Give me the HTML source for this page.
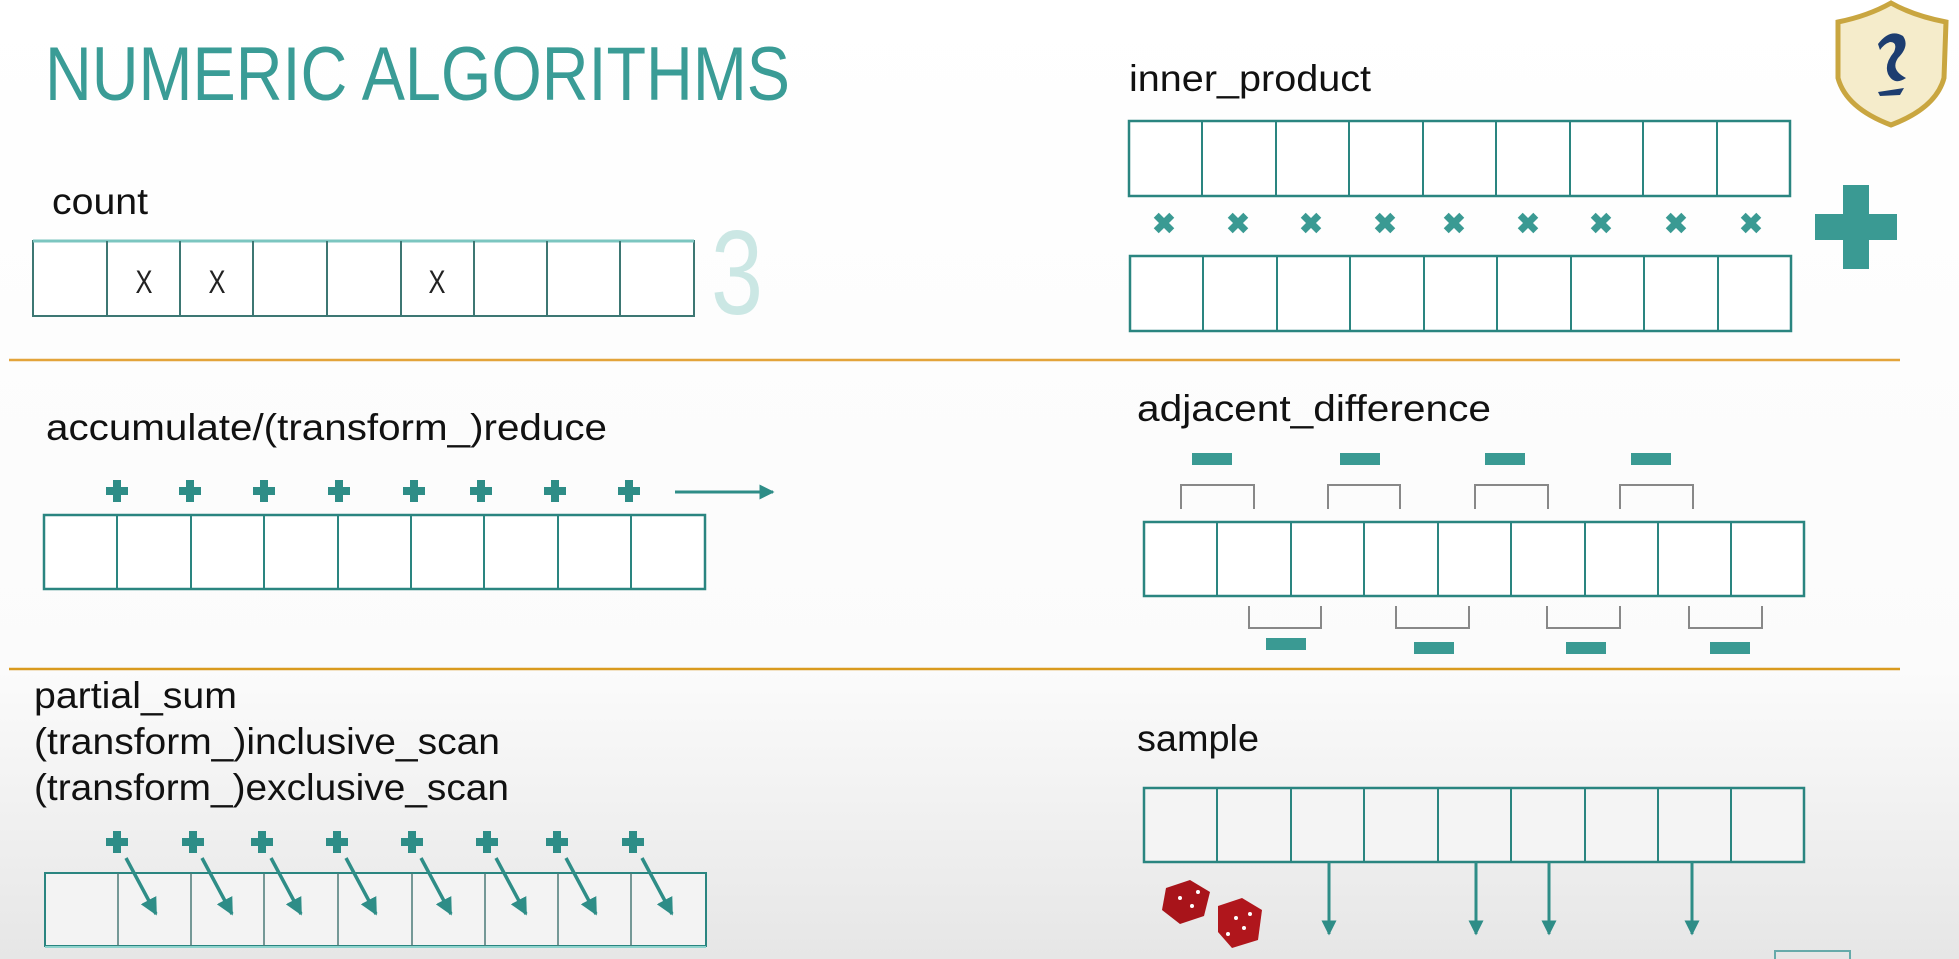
<!DOCTYPE html>
<html><head><meta charset="utf-8"><style>
html,body{margin:0;padding:0;width:1959px;height:959px;overflow:hidden;}
svg{display:block;}
text{font-family:"Liberation Sans",sans-serif;}
</style></head><body>
<svg width="1959" height="959" viewBox="0 0 1959 959" xmlns="http://www.w3.org/2000/svg">
<defs>
<linearGradient id="bg" x1="0" y1="0" x2="0" y2="1">
<stop offset="0" stop-color="#ffffff"/><stop offset="0.7" stop-color="#fbfbfb"/><stop offset="1" stop-color="#e6e6e6"/>
</linearGradient>
<g id="plus"><rect x="-4" y="-11" width="8" height="22" fill="#2e8d87"/><rect x="-11" y="-4" width="22" height="8" fill="#2e8d87"/></g>
<g id="times" transform="rotate(45)"><rect x="-3.5" y="-11" width="7" height="22" fill="#3a9a93"/><rect x="-11" y="-3.5" width="22" height="7" fill="#3a9a93"/></g>
<marker id="ah" viewBox="0 0 10 10" refX="9" refY="5" markerWidth="5" markerHeight="5" orient="auto"><path d="M0,0 L10,5 L0,10 z" fill="#2e8d87"/></marker>
</defs>
<rect width="1959" height="959" fill="url(#bg)"/>

<text x="45" y="100" font-size="76" fill="#3a9c96" textLength="745" lengthAdjust="spacingAndGlyphs">NUMERIC ALGORITHMS</text>

<path d="M1838,22 Q1868,16 1891,3 Q1914,16 1946,22 L1944,78 Q1936,108 1891,125 Q1846,108 1838,78 Z" fill="#f5eccb" stroke="#c9a640" stroke-width="5"/>
<path d="M1878,44 Q1890,28 1903,36 Q1910,46 1898,58 Q1890,70 1906,78 Q1894,86 1888,74 Q1884,64 1894,52 Q1898,42 1890,42 Q1884,44 1880,50 Z" fill="#1d3d70"/>
<path d="M1878,92 L1904,88 L1900,95 L1880,96 Z" fill="#1d3d70"/>

<text x="52" y="214" font-size="37" fill="#111" textLength="96" lengthAdjust="spacingAndGlyphs">count</text>
<rect x="33" y="241" width="661" height="75" fill="#fff" stroke="#3d7773" stroke-width="2"/>
<line x1="33" y1="241" x2="694" y2="241" stroke="#7cc6c0" stroke-width="3"/>
<path d="M107,241V316M180,241V316M253,241V316M327,241V316M401,241V316M474,241V316M547,241V316M620,241V316" stroke="#3d7773" stroke-width="2"/>
<g font-size="32" fill="#222" text-anchor="middle"><text x="144" y="293" textLength="17" lengthAdjust="spacingAndGlyphs">X</text><text x="217" y="293" textLength="17" lengthAdjust="spacingAndGlyphs">X</text><text x="437" y="293" textLength="17" lengthAdjust="spacingAndGlyphs">X</text></g>
<text x="737" y="314" font-size="120" fill="#cbe7e4" text-anchor="middle" textLength="52" lengthAdjust="spacingAndGlyphs">3</text>

<text x="1129" y="91" font-size="37" fill="#111" textLength="242" lengthAdjust="spacingAndGlyphs">inner_product</text>
<g stroke="#2a8580" stroke-width="2.5" fill="#fff">
<rect x="1129" y="121" width="661" height="75"/>
<rect x="1130" y="256" width="661" height="75"/>
</g>
<g stroke="#2a8580" stroke-width="2">
<path d="M1202,121V196M1276,121V196M1349,121V196M1423,121V196M1496,121V196M1570,121V196M1643,121V196M1717,121V196"/>
<path d="M1203,256V331M1277,256V331M1350,256V331M1424,256V331M1497,256V331M1571,256V331M1644,256V331M1718,256V331"/>
</g>
<g>
<use href="#times" x="1164" y="223"/><use href="#times" x="1238" y="223"/><use href="#times" x="1311" y="223"/><use href="#times" x="1385" y="223"/><use href="#times" x="1454" y="223"/><use href="#times" x="1528" y="223"/><use href="#times" x="1601" y="223"/><use href="#times" x="1676" y="223"/><use href="#times" x="1751" y="223"/>
</g>
<rect x="1843" y="185" width="26" height="84" fill="#3a9a93"/>
<rect x="1815" y="214" width="82" height="26" fill="#3a9a93"/>

<line x1="9" y1="360" x2="1900" y2="360" stroke="#e3a43a" stroke-width="2.5"/>
<line x1="9" y1="669" x2="1900" y2="669" stroke="#d99a1e" stroke-width="2.5"/>

<text x="46" y="440" font-size="37" fill="#111" textLength="561" lengthAdjust="spacingAndGlyphs">accumulate/(transform_)reduce</text>
<g>
<use href="#plus" x="117" y="491"/><use href="#plus" x="190" y="491"/><use href="#plus" x="264" y="491"/><use href="#plus" x="339" y="491"/><use href="#plus" x="414" y="491"/><use href="#plus" x="481" y="491"/><use href="#plus" x="555" y="491"/><use href="#plus" x="629" y="491"/>
</g>
<line x1="675" y1="492" x2="773" y2="492" stroke="#2e8d87" stroke-width="3" marker-end="url(#ah)"/>
<rect x="44" y="515" width="661" height="74" fill="#fff" stroke="#2a8580" stroke-width="2.5"/>
<path d="M117,515V589M191,515V589M264,515V589M338,515V589M411,515V589M484,515V589M558,515V589M631,515V589" stroke="#2a8580" stroke-width="2"/>

<text x="1137" y="421" font-size="37" fill="#111" textLength="354" lengthAdjust="spacingAndGlyphs">adjacent_difference</text>
<g fill="#3a9a93">
<rect x="1192" y="453" width="40" height="12"/><rect x="1340" y="453" width="40" height="12"/><rect x="1485" y="453" width="40" height="12"/><rect x="1631" y="453" width="40" height="12"/>
<rect x="1266" y="638" width="40" height="12"/><rect x="1414" y="642" width="40" height="12"/><rect x="1566" y="642" width="40" height="12"/><rect x="1710" y="642" width="40" height="12"/>
</g>
<g stroke="#888" stroke-width="2" fill="none">
<path d="M1181,509V485H1254V509M1328,509V485H1400V509M1475,509V485H1548V509M1620,509V485H1693V509"/>
<path d="M1249,606V628H1321V606M1396,606V628H1469V606M1547,606V628H1620V606M1689,606V628H1762V606"/>
</g>
<rect x="1144" y="522" width="660" height="74" fill="#fff" stroke="#2a8580" stroke-width="2.5"/>
<path d="M1217,522V596M1291,522V596M1364,522V596M1438,522V596M1511,522V596M1585,522V596M1658,522V596M1731,522V596" stroke="#2a8580" stroke-width="2"/>

<g font-size="37" fill="#111">
<text x="34" y="708" textLength="203" lengthAdjust="spacingAndGlyphs">partial_sum</text>
<text x="34" y="754" textLength="466" lengthAdjust="spacingAndGlyphs">(transform_)inclusive_scan</text>
<text x="34" y="800" textLength="475" lengthAdjust="spacingAndGlyphs">(transform_)exclusive_scan</text>
</g>
<rect x="45" y="873" width="661" height="73" fill="#f3f3f3" stroke="#2a8580" stroke-width="2"/>
<path d="M118,873V946M191,873V946M264,873V946M338,873V946M412,873V946M485,873V946M558,873V946M631,873V946" stroke="#4a7a77" stroke-width="1.5"/>
<line x1="45" y1="947" x2="706" y2="947" stroke="#8fd3cd" stroke-width="2"/>
<g>
<use href="#plus" x="117" y="842"/><use href="#plus" x="193" y="842"/><use href="#plus" x="262" y="842"/><use href="#plus" x="337" y="842"/><use href="#plus" x="412" y="842"/><use href="#plus" x="487" y="842"/><use href="#plus" x="557" y="842"/><use href="#plus" x="633" y="842"/>
</g>
<g stroke="#2e8d87" stroke-width="3.5" marker-end="url(#ah)">
<line x1="126" y1="858" x2="156" y2="914"/><line x1="202" y1="858" x2="232" y2="914"/><line x1="271" y1="858" x2="301" y2="914"/><line x1="346" y1="858" x2="376" y2="914"/><line x1="421" y1="858" x2="451" y2="914"/><line x1="496" y1="858" x2="526" y2="914"/><line x1="566" y1="858" x2="596" y2="914"/><line x1="642" y1="858" x2="672" y2="914"/>
</g>

<text x="1137" y="751" font-size="37" fill="#111" textLength="122" lengthAdjust="spacingAndGlyphs">sample</text>
<rect x="1144" y="788" width="660" height="74" fill="#f4f4f4" stroke="#2a8580" stroke-width="2.5"/>
<path d="M1217,788V862M1291,788V862M1364,788V862M1438,788V862M1511,788V862M1585,788V862M1658,788V862M1731,788V862" stroke="#2a8580" stroke-width="2"/>
<g stroke="#2e8d87" stroke-width="3" marker-end="url(#ah)">
<line x1="1329" y1="862" x2="1329" y2="934"/><line x1="1476" y1="862" x2="1476" y2="934"/><line x1="1549" y1="862" x2="1549" y2="934"/><line x1="1692" y1="862" x2="1692" y2="934"/>
</g>
<g>
<path d="M1166,888 L1190,880 L1210,892 L1204,916 L1180,924 L1162,910 Z" fill="#a8141a"/>
<path d="M1218,906 L1242,898 L1262,910 L1258,940 L1232,948 L1218,932 Z" fill="#b0161c"/>
<g fill="#fff"><circle cx="1180" cy="898" r="2"/><circle cx="1192" cy="906" r="2"/><circle cx="1198" cy="892" r="2"/><circle cx="1236" cy="918" r="2"/><circle cx="1244" cy="928" r="2"/><circle cx="1250" cy="914" r="2"/><circle cx="1228" cy="934" r="2"/></g>
</g>
<rect x="1775" y="951" width="75" height="10" fill="none" stroke="#6aa" stroke-width="2"/>
</svg>
</body></html>
